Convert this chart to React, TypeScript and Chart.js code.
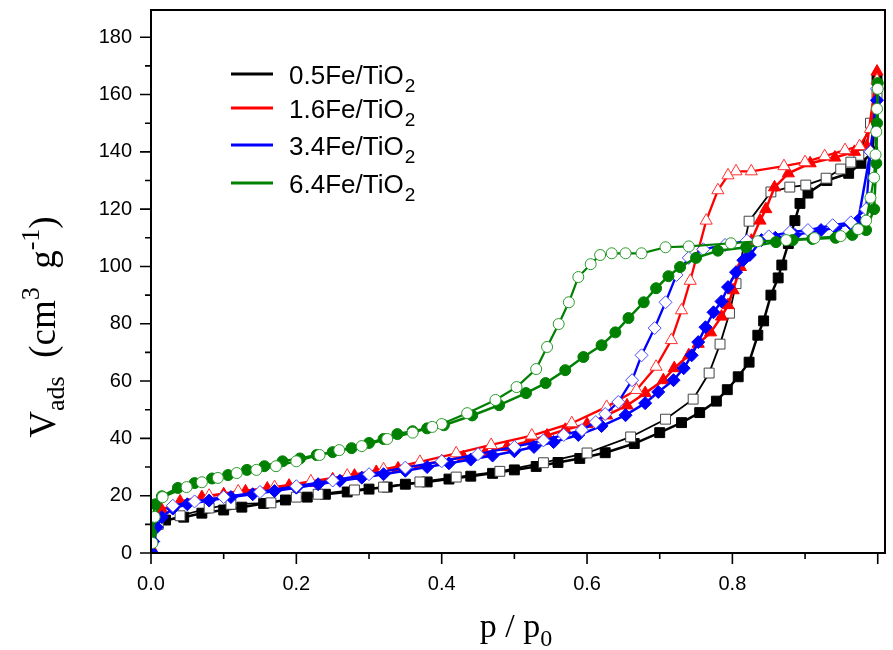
import React, { useEffect, useRef } from 'react';
import { Chart, registerables } from 'chart.js';

Chart.register(...registerables);

// ---------- data ----------
const SERIES_NAMES = ['0.5Fe/TiO', '1.6Fe/TiO', '3.4Fe/TiO', '6.4Fe/TiO'];
const SERIES_SUB = '2';
const X_TITLE = 'p / p';
const X_TITLE_SUB = '0';

// 0.5Fe/TiO2
const P_ADS_05 = [0.0, 0.005, 0.02, 0.045, 0.07, 0.1, 0.125, 0.155, 0.185, 0.215, 0.24, 0.27, 0.3, 0.325, 0.35, 0.38, 0.41, 0.44, 0.47, 0.5, 0.53, 0.56, 0.59, 0.625, 0.665, 0.7, 0.73, 0.755, 0.778, 0.793, 0.808, 0.823, 0.835, 0.843, 0.853, 0.863, 0.868, 0.877, 0.886, 0.893, 0.904, 0.93, 0.96, 0.977, 0.993, 0.999];
const V_ADS_05 = [5, 10, 11.5, 12.5, 13.9, 15, 16, 17.3, 18.5, 19.5, 20.5, 21.3, 22.3, 23, 24, 24.8, 25.8, 26.8, 27.8, 29, 30.2, 31.6, 33, 35, 38.2, 42, 45.5, 49, 53, 57, 61.5, 66.6, 76, 81, 90, 96, 100.5, 108, 116, 122, 125.6, 130, 132.5, 136, 140, 165];
const P_DES_05 = [0.999, 0.99, 0.974, 0.963, 0.949, 0.929, 0.901, 0.879, 0.853, 0.823, 0.805, 0.796, 0.783, 0.768, 0.746, 0.708, 0.66, 0.6, 0.54, 0.48, 0.42, 0.37, 0.32, 0.28, 0.23, 0.2, 0.165, 0.11, 0.08, 0.04, 0.01];
const V_DES_05 = [160, 150, 138.8, 136.4, 134, 130.8, 128.4, 127.7, 126, 115.8, 94, 83.7, 72.9, 62.8, 53.7, 46.7, 40.5, 34.9, 31.5, 28.5, 26.5, 24.8, 23, 22, 20.5, 19.5, 17.5, 17, 15.7, 13, 10];

// 1.6Fe/TiO2
const P_ADS_16 = [0.0, 0.005, 0.015, 0.04, 0.07, 0.1, 0.13, 0.16, 0.19, 0.22, 0.25, 0.28, 0.31, 0.34, 0.37, 0.4, 0.43, 0.46, 0.49, 0.52, 0.545, 0.57, 0.6, 0.627, 0.655, 0.68, 0.705, 0.72, 0.74, 0.753, 0.77, 0.785, 0.794, 0.801, 0.811, 0.826, 0.838, 0.846, 0.858, 0.877, 0.907, 0.941, 0.968, 0.985, 0.999];
const V_ADS_16 = [2, 10, 15, 18, 19.5, 20.5, 21.5, 22.5, 23.5, 24.5, 25.7, 27, 28.3, 29.5, 30.8, 32, 33.5, 35, 37, 39, 41, 43, 45, 48, 51.5, 55.8, 60.3, 64.5, 69, 73, 77, 82.5, 86.5, 91.7, 99.8, 109, 116, 120, 127.6, 132.5, 136, 138, 140, 142, 168];
const P_DES_16 = [0.999, 0.99, 0.975, 0.955, 0.927, 0.9, 0.871, 0.826, 0.805, 0.794, 0.78, 0.764, 0.742, 0.73, 0.716, 0.695, 0.668, 0.627, 0.579, 0.524, 0.468, 0.42, 0.37, 0.32, 0.27, 0.22, 0.17, 0.12, 0.08];
const V_DES_16 = [165, 148, 142, 140.6, 138.5, 136.4, 135, 133.2, 133.2, 131.8, 126.6, 116, 95, 84.7, 74.3, 65, 56.9, 51, 45.3, 41, 37.7, 34.8, 31.8, 29.2, 27, 25, 23, 21.5, 20];

// 3.4Fe/TiO2
const P_ADS_34 = [0.0, 0.003, 0.008, 0.015, 0.03, 0.05, 0.08, 0.11, 0.14, 0.17, 0.2, 0.23, 0.26, 0.29, 0.32, 0.35, 0.38, 0.41, 0.44, 0.47, 0.5, 0.527, 0.554, 0.588, 0.62, 0.653, 0.68, 0.698, 0.719, 0.733, 0.744, 0.753, 0.763, 0.774, 0.785, 0.794, 0.805, 0.815, 0.824, 0.84, 0.859, 0.886, 0.922, 0.942, 0.962, 0.973, 0.99, 0.999];
const V_ADS_34 = [0.5, 4, 9, 12.5, 15.5, 17, 18.3, 19.5, 20.5, 21.6, 22.8, 24, 25.2, 26.3, 27.5, 28.7, 30, 31.3, 32.6, 34, 35.5, 37, 38.7, 41.2, 44.3, 48.1, 52.3, 56.2, 60.3, 64.5, 69, 73.6, 78.8, 84, 87.8, 92.8, 98, 102.2, 104, 109.2, 110, 111, 112.7, 113.4, 115, 116, 140, 158];
const P_DES_34 = [0.999, 0.99, 0.984, 0.963, 0.938, 0.904, 0.879, 0.85, 0.82, 0.79, 0.76, 0.74, 0.723, 0.708, 0.693, 0.675, 0.662, 0.643, 0.625, 0.612, 0.593, 0.568, 0.54, 0.5, 0.45, 0.4, 0.35, 0.3, 0.25, 0.2, 0.15, 0.1, 0.06, 0.03];
const V_DES_34 = [162, 140, 120, 115.4, 114.4, 112.7, 112, 110.5, 109, 107.5, 106, 103, 97, 87.5, 78.5, 69, 60.3, 52.7, 48.5, 45.7, 42.9, 41.2, 39.3, 37, 34.5, 32, 29.8, 27.5, 25.3, 23.3, 21.3, 19.5, 18, 16.5];

// 6.4Fe/TiO2
const P_ADS_64 = [0.0, 0.002, 0.006, 0.015, 0.037, 0.06, 0.084, 0.106, 0.132, 0.156, 0.181, 0.205, 0.228, 0.25, 0.276, 0.3, 0.32, 0.339, 0.36, 0.38, 0.403, 0.442, 0.479, 0.516, 0.543, 0.57, 0.595, 0.62, 0.639, 0.657, 0.678, 0.695, 0.712, 0.728, 0.75, 0.78, 0.819, 0.86, 0.883, 0.91, 0.942, 0.965, 0.984, 0.995, 0.998, 0.999, 1.0];
const V_ADS_64 = [7, 12, 17, 19.8, 22.7, 24.4, 26, 27.2, 29, 30.3, 32, 33, 34.2, 35.2, 36.6, 38.4, 39.8, 41.5, 42.5, 43.5, 44.6, 48, 51.6, 55.8, 59.3, 63.8, 68.4, 72.5, 77, 82, 87.5, 92.4, 96.6, 99.8, 103, 105.5, 106.7, 108.5, 109.2, 109.6, 110, 111, 112.7, 120, 136, 150, 164];
const P_DES_64 = [1.0, 0.999, 0.998, 0.997, 0.995, 0.99, 0.984, 0.973, 0.949, 0.913, 0.874, 0.835, 0.798, 0.74, 0.708, 0.675, 0.653, 0.634, 0.618, 0.605, 0.588, 0.575, 0.561, 0.545, 0.53, 0.503, 0.474, 0.435, 0.4, 0.387, 0.36, 0.325, 0.29, 0.259, 0.232, 0.2, 0.172, 0.145, 0.118, 0.092, 0.07, 0.049, 0.016, 0.005, 0.002];
const V_DES_64 = [162, 155, 147, 139, 131, 124, 116, 113, 110.6, 109.9, 109.2, 108.8, 108.1, 107, 106.7, 104.6, 104.6, 104.6, 104, 100.8, 96.3, 87.5, 79.9, 71.9, 64.2, 57.9, 53.4, 48.8, 45, 44, 42, 39.8, 37.3, 35.9, 34.2, 32, 30.3, 29, 27.9, 26.2, 24.7, 23, 19.5, 12.6, 3.5];

// ---------- styles ----------
const COLORS = ['#000000', '#ff0000', '#0000ff', '#008000'];
const DES_BORDER = ['#444444', '#ff3030', '#4a4aff', '#2a9a2a'];
const SHAPES = ['rect', 'triangle', 'rectRot', 'circle'];
const RADII = [7, 7, 6.5, 5.5];
const ADS_WIDTH = [2.5, 2.5, 2.5, 2.5];
const DES_WIDTH = [1.8, 2.3, 2.3, 2.2];

const pts = (xs: number[], ys: number[]) => xs.map((x, i) => ({ x, y: ys[i] }));

const SERIES = [
  { ads: pts(P_ADS_05, V_ADS_05), des: pts(P_DES_05, V_DES_05) },
  { ads: pts(P_ADS_16, V_ADS_16), des: pts(P_DES_16, V_DES_16) },
  { ads: pts(P_ADS_34, V_ADS_34), des: pts(P_DES_34, V_DES_34) },
  { ads: pts(P_ADS_64, V_ADS_64), des: pts(P_DES_64, V_DES_64) },
];

const isMult = (v: number, s: number) => Math.abs(v / s - Math.round(v / s)) < 1e-6;

const decorPlugin = {
  id: 'decor',
  afterDraw(chart: any) {
    const { ctx, chartArea: a, scales } = chart;
    const xs = scales.x;
    const ys = scales.y;
    ctx.save();
    // frame
    ctx.strokeStyle = '#000';
    ctx.lineWidth = 2;
    ctx.strokeRect(a.left, a.top, a.right - a.left, a.bottom - a.top);
    // ticks
    ctx.lineWidth = 1.6;
    ctx.beginPath();
    for (let i = 0; i <= 10; i++) {
      const v = i / 10;
      const px = xs.getPixelForValue(v);
      const len = i % 2 === 0 ? 11 : 6;
      ctx.moveTo(px, a.bottom);
      ctx.lineTo(px, a.bottom + len);
    }
    for (let i = 0; i <= 18; i++) {
      const v = i * 10;
      const py = ys.getPixelForValue(v);
      const len = i % 2 === 0 ? 11 : 6;
      ctx.moveTo(a.left, py);
      ctx.lineTo(a.left - len, py);
    }
    ctx.stroke();

    // legend
    const lx0 = 231, lx1 = 273, tx = 289;
    const rows = [74, 108, 145, 183];
    SERIES_NAMES.forEach((name, i) => {
      const y = rows[i];
      ctx.strokeStyle = COLORS[i];
      ctx.lineWidth = 3;
      ctx.beginPath();
      ctx.moveTo(lx0, y);
      ctx.lineTo(lx1, y);
      ctx.stroke();
      ctx.fillStyle = '#000';
      ctx.textBaseline = 'alphabetic';
      ctx.textAlign = 'left';
      ctx.font = '26px "Liberation Sans", Arial, sans-serif';
      ctx.fillText(name, tx, y + 10);
      const w = ctx.measureText(name).width;
      ctx.font = '19px "Liberation Sans", Arial, sans-serif';
      ctx.fillText(SERIES_SUB, tx + w + 1, y + 18);
    });

    // x title
    ctx.fillStyle = '#000';
    ctx.textBaseline = 'alphabetic';
    ctx.textAlign = 'left';
    const big = '34px "Liberation Serif", "Times New Roman", serif';
    const small = '24px "Liberation Serif", "Times New Roman", serif';
    ctx.font = big;
    const wx = ctx.measureText(X_TITLE).width;
    ctx.font = small;
    const wx0 = ctx.measureText(X_TITLE_SUB).width;
    const xStart = 516 - (wx + wx0) / 2;
    ctx.font = big;
    ctx.fillText(X_TITLE, xStart, 637);
    ctx.font = small;
    ctx.fillText(X_TITLE_SUB, xStart + wx, 646);

    // y title (rotated)
    const yBig = '37px "Liberation Serif", "Times New Roman", serif';
    const ySmall = '26px "Liberation Serif", "Times New Roman", serif';
    const parts: [string, string, number][] = [
      ['V', yBig, 0],
      ['ads', ySmall, 9],
      ['  (cm', yBig, 0],
      ['3', ySmall, -16],
      ['  g', yBig, 0],
      ['-1', ySmall, -16],
      [')', yBig, 0],
    ];
    let total = 0;
    const widths = parts.map(([t, f]) => {
      ctx.font = f;
      const w = ctx.measureText(t).width;
      total += w;
      return w;
    });
    ctx.translate(55, 327);
    ctx.rotate(-Math.PI / 2);
    let cx = -total / 2;
    parts.forEach(([t, f, dy], i) => {
      ctx.font = f;
      ctx.fillText(t, cx, dy);
      cx += widths[i];
    });
    ctx.restore();
  },
};

export default function App() {
  const ref = useRef<HTMLCanvasElement | null>(null);

  useEffect(() => {
    if (!ref.current) return;
    const datasets: any[] = [];
    const drawOrder = [8, 6, 4, 2]; // smaller = on top (green top)
    SERIES.forEach((s, i) => {
      datasets.push({
        label: SERIES_NAMES[i] + SERIES_SUB + ' ads',
        data: s.ads,
        borderColor: COLORS[i],
        backgroundColor: COLORS[i],
        pointBackgroundColor: COLORS[i],
        pointBorderColor: COLORS[i],
        pointStyle: SHAPES[i],
        pointRadius: RADII[i],
        pointBorderWidth: 1,
        borderWidth: ADS_WIDTH[i],
        tension: 0,
        order: drawOrder[i],
      });
      datasets.push({
        label: SERIES_NAMES[i] + SERIES_SUB + ' des',
        data: s.des,
        borderColor: COLORS[i],
        backgroundColor: '#ffffff',
        pointBackgroundColor: '#ffffff',
        pointBorderColor: DES_BORDER[i],
        pointStyle: SHAPES[i],
        pointRadius: RADII[i],
        pointBorderWidth: 1,
        borderWidth: DES_WIDTH[i],
        tension: 0,
        order: drawOrder[i] - 1,
      });
    });

    const tickFont = { family: '"Liberation Sans", Arial, sans-serif', size: 20 };
    const chart = new Chart(ref.current, {
      type: 'line',
      data: { datasets },
      options: {
        responsive: false,
        animation: false,
        events: [],
        layout: { padding: { top: 10, right: 8, left: 0, bottom: 0 } },
        plugins: { legend: { display: false }, tooltip: { enabled: false } },
        scales: {
          x: {
            type: 'linear',
            min: 0,
            max: 1.01,
            grid: { display: false, drawTicks: false },
            border: { display: false },
            ticks: {
              stepSize: 0.2,
              autoSkip: false,
              maxRotation: 0,
              padding: 19,
              color: '#000',
              font: tickFont,
              callback: (v: any) => (isMult(Number(v), 0.2) && Number(v) <= 1.0001 ? Number(v).toFixed(1) : ''),
            },
            afterFit: (s: any) => {
              s.height = 97;
              s.paddingLeft = 0;
              s.paddingRight = 0;
            },
          },
          y: {
            type: 'linear',
            min: 0,
            max: 189.5,
            grid: { display: false, drawTicks: false },
            border: { display: false },
            ticks: {
              stepSize: 20,
              autoSkip: false,
              padding: 19,
              color: '#000',
              font: tickFont,
              callback: (v: any) => (isMult(Number(v), 20) ? String(Math.round(Number(v))) : ''),
            },
            afterFit: (s: any) => {
              s.width = 151;
              s.paddingTop = 0;
              s.paddingBottom = 0;
            },
          },
        },
      },
      plugins: [decorPlugin],
    });
    return () => chart.destroy();
  }, []);

  return (
    <canvas
      ref={ref}
      width={893}
      height={650}
      style={{ position: 'absolute', left: 0, top: 0, width: 893, height: 650, background: '#fff' }}
    />
  );
}
